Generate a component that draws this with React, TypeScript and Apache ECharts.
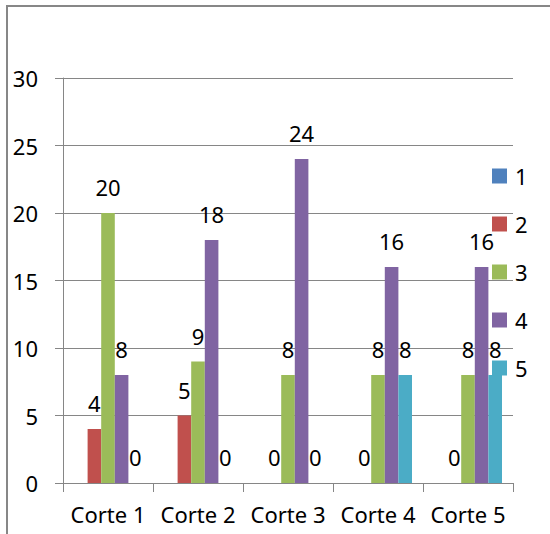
import React, { useEffect, useRef } from "react";
import * as echarts from "echarts";

const categories = ["Corte 1", "Corte 2", "Corte 3", "Corte 4", "Corte 5"];
const seriesNames = ["1", "2", "3", "4", "5"];
const s1: (number | null)[] = [null, null, null, null, null];
const s2 = [4, 5, 0, 0, 0];
const s3 = [20, 9, 8, 8, 8];
const s4 = [8, 18, 24, 16, 16];
const s5 = [0, 0, 0, 8, 8];
const yTicks = [0, 5, 10, 15, 20, 25, 30];
const colors = ["#4F81BD", "#C0504D", "#9BBB59", "#8064A2", "#4BACC6"];

const FONT = "'Noto Sans', sans-serif";

export default function App() {
  const ref = useRef<HTMLDivElement>(null);
  useEffect(() => {
    document.body.style.margin = "0";
    if (!ref.current) return;
    const chart = echarts.init(ref.current, undefined, { renderer: "svg" });
    const all = [s1, s2, s3, s4, s5];
    chart.setOption({
      animation: false,
      backgroundColor: "#ffffff",
      color: colors,
      textStyle: { fontFamily: FONT },
      graphic: [
        {
          type: "rect",
          shape: { x: 7, y: 6, width: 620, height: 620 },
          style: { fill: "none", stroke: "#878787", lineWidth: 2 },
          silent: true,
        },
      ],
      legend: {
        orient: "vertical",
        left: 492,
        top: 165,
        padding: 0,
        itemWidth: 15,
        itemHeight: 15,
        itemGap: 26,
        icon: "rect",
        data: seriesNames,
        textStyle: {
          fontFamily: FONT,
          fontSize: 22,
          lineHeight: 22,
          color: "#000",
          padding: [0, 0, 0, 3],
        },
      },
      grid: { left: 63, right: 37, top: 78, bottom: 51, containLabel: false },
      xAxis: {
        type: "category",
        data: categories,
        axisLine: { lineStyle: { color: "#868686", width: 1 } },
        axisTick: { show: true, length: 9, alignWithLabel: false, lineStyle: { color: "#868686" } },
        axisLabel: { fontFamily: FONT, fontSize: 22, color: "#000", margin: 20, interval: 0, hideOverlap: false },
        splitLine: { show: false },
      },
      yAxis: {
        type: "value",
        min: yTicks[0],
        max: yTicks[yTicks.length - 1],
        interval: 5,
        axisLine: { show: true, lineStyle: { color: "#868686", width: 1 } },
        axisTick: { show: true, length: 8, lineStyle: { color: "#868686" } },
        axisLabel: { fontFamily: FONT, fontSize: 22, color: "#000", margin: 25 },
        splitLine: { show: true, lineStyle: { color: "#868686", width: 1 } },
      },
      series: seriesNames.map((name, i) => ({
        name,
        type: "bar",
        data: all[i],
        barWidth: 13.6,
        barGap: "0%",
        itemStyle: { color: colors[i] },
        label: {
          show: i !== 0,
          position: "top",
          distance: 15,
          fontFamily: FONT,
          fontSize: 22,
          color: "#000",
        },
      })),
    });
    return () => chart.dispose();
  }, []);
  return <div ref={ref} style={{ width: 550, height: 534, position: "absolute", left: 0, top: 0 }} />;
}
